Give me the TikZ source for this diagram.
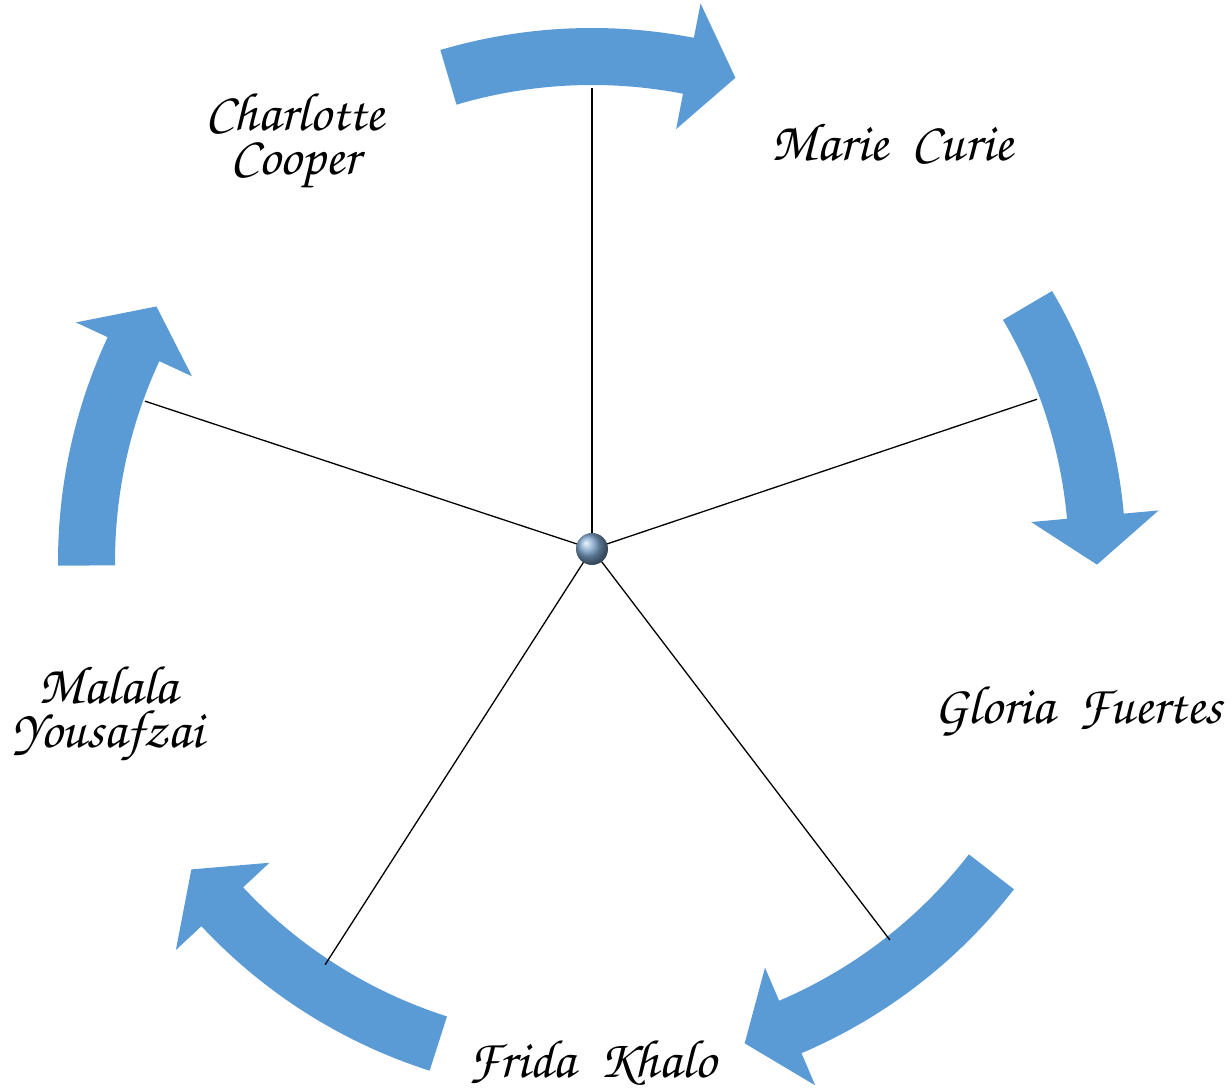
\documentclass[tikz,border=0pt]{standalone}
\usetikzlibrary{calc}
\definecolor{arrowblue}{RGB}{91,155,213}
\definecolor{hubblue}{RGB}{125,165,205}
\newcommand{\cyclearrow}[2]{
    % #1: tail angle
    % #2: tip angle
    \fill[arrowblue] (#1:534) arc[start angle=#1, end angle=#2+5.5, radius=534]
        -- (#2+5.5:569) -- (#2:505) -- (#2+5.5:441) -- (#2+5.5:477)
        arc[start angle=#2+5.5, end angle=#1, radius=477] -- cycle;
}
\newcommand{\namefont}{\fontencoding{T1}\fontfamily{pzc}\fontsize{27}{22}\selectfont}

\begin{document}
\begin{tikzpicture}[x=0.5pt, y=0.5pt]
    % names of the women
    \tikzstyle{person}=[inner sep=0, align=center, font=\namefont]
    \tikzstyle{spoke}=[line width=0.65pt, black]
    \useasboundingbox (-592,-529) rectangle (640,562);
    % arrows of the cycle
    \cyclearrow{106.5}{73.5}
    \cyclearrow{30.5}{-0.3}
    \cyclearrow{-37.8}{-72.4}
    \cyclearrow{-107.7}{-142.5}
    \cyclearrow{180.4}{149.6}
    % spokes from the hub
    \coordinate (hub) at (0,13);
    \foreach \a/\l [count=\i] in {90/461, 18.6/469.6, -52.7/491.6, -122.7/494, 161.7/470.9} {
        \coordinate (end\i) at ($(hub)+(\a:\l)$);
        \draw[spoke] (hub) -- (end\i);
    }
    \node[circle, minimum size=16pt, inner sep=0, shading=ball, ball color=hubblue] (ball) at (hub) {};
    % labels
    \node[person] (marie) at (300,420) {Marie\ \ Curie};
    \node[person] (gloria) at (486,-149) {Gloria\ \ Fuertes};
    \node[person] (frida) at (0,-500) {Frida\ \ Khalo};
    \node[person] (malala) at (-484,-153) {Malala\\Yousafzai};
    \node[person] (charlotte) at (-297,420) {Charlotte\\Cooper};
\end{tikzpicture}
\end{document}
